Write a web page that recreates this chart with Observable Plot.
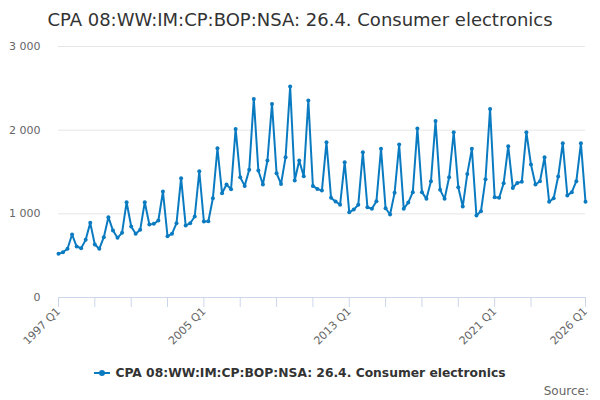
<!DOCTYPE html>
<html>
<head>
<meta charset="utf-8">
<script src="https://cdn.jsdelivr.net/npm/d3@7"></script>
<script src="https://cdn.jsdelivr.net/npm/@observablehq/plot@0.6"></script>
<style>
  body { margin: 0; width: 600px; height: 400px; background: #fff; font-family: "DejaVu Sans", sans-serif; overflow: hidden; }
  #title { height: 40px; line-height: 40px; text-align: center; font-size: 18px; color: #333; }
  #chart svg { display: block; }
  #legend { position: absolute; top: 366px; left: 0; width: 600px; text-align: center; font-size: 12.3px; font-weight: bold; color: #333; }
  #legend .sw { display: inline-block; vertical-align: middle; position: relative; width: 16px; height: 2px; background: #0b7bc1; margin-right: 5px; top: -1px; }
  #legend .sw::after { content: ""; position: absolute; left: 5px; top: -2px; width: 6px; height: 6px; border-radius: 3px; background: #0b7bc1; }
  #source { position: absolute; top: 384px; right: 11px; font-size: 12px; color: #666; }
</style>
</head>
<body>
<div id="title">CPA 08:WW:IM:CP:BOP:NSA: 26.4. Consumer electronics</div>
<div id="chart"></div>
<div id="legend"><span class="sw"></span>CPA 08:WW:IM:CP:BOP:NSA: 26.4. Consumer electronics</div>
<div id="source">Source:</div>
<script>
const seriesName = "CPA 08:WW:IM:CP:BOP:NSA: 26.4. Consumer electronics";
const startYear = 1997;
// Quarterly values, 1997 Q1 .. 2026 Q1
const values = [
  522, 541, 582, 753,      // 1997
  609, 589, 689, 892,      // 1998
  633, 582, 721, 960,      // 1999
  800, 713, 773, 1139,     // 2000
  848, 761, 809, 1139,     // 2001
  872, 880, 920, 1266,     // 2002
  733, 761, 888, 1426,     // 2003
  860, 888, 968, 1509,     // 2004
  908, 912, 1187, 1784,    // 2005
  1246, 1350, 1294, 2015,  // 2006
  1437, 1334, 1526, 2374,  // 2007
  1517, 1350, 1637, 2314,  // 2008
  1485, 1358, 1676, 2521,  // 2009
  1398, 1637, 1450, 2354,  // 2010
  1334, 1298, 1278, 1856,  // 2011
  1191, 1147, 1110, 1617,  // 2012
  1019, 1051, 1108, 1736,  // 2013
  1079, 1060, 1151, 1777,  // 2014
  1067, 992, 1251, 1828,   // 2015
  1060, 1135, 1259, 2020,  // 2016
  1259, 1179, 1390, 2110,  // 2017
  1287, 1179, 1437, 1975,  // 2018
  1318, 1087, 1477, 1777,  // 2019
  980, 1031, 1414, 2254,   // 2020
  1199, 1191, 1366, 1808,  // 2021
  1310, 1370, 1382, 1975,  // 2022
  1589, 1350, 1390, 1676,  // 2023
  1143, 1187, 1446, 1844,  // 2024
  1219, 1259, 1390, 1844,  // 2025
  1143                     // 2026 Q1
];
const yTicks = [0, 1000, 2000, 3000];
const xMinorTickYears = [1997, 1999, 2001, 2003, 2005, 2007, 2009, 2011, 2013, 2015, 2017, 2019, 2021, 2023, 2026];
const xLabelYears = [1997, 2005, 2013, 2021, 2026];

const qDate = (y, q) => new Date(Date.UTC(y, q * 3, 1));
const data = values.map((v, i) => ({
  date: qDate(startYear + Math.floor(i / 4), i % 4),
  value: v
}));
const minorTicks = xMinorTickYears.map(y => qDate(y, 0));
const labelTicks = xLabelYears.map(y => qDate(y, 0));
const fmtQ = d => `${d.getUTCFullYear()} Q${Math.floor(d.getUTCMonth() / 3) + 1}`;
const fmtY = d => d3.format(",")(d).replace(/,/g, " ");
const color = "#0b7bc1";

const chart = Plot.plot({
  width: 600,
  height: 320,
  marginTop: 6,
  marginBottom: 63,
  marginLeft: 58,
  marginRight: 15,
  style: { fontFamily: "DejaVu Sans, sans-serif", background: "transparent" },
  x: { type: "utc", domain: [qDate(1997, 0), qDate(2026, 0)] },
  y: { domain: [0, 3000] },
  marks: [
    Plot.gridY(yTicks, { stroke: "#e6e6e6", strokeOpacity: 1 }),
    Plot.axisY(yTicks, { tickSize: 0, tickPadding: 18, tickFormat: fmtY, fill: "#666", fontSize: 11, label: null }),
    Plot.ruleY([0], { stroke: "#ccd6eb" }),
    Plot.axisX(minorTicks, { tickSize: 10, stroke: "#ccd6eb", strokeOpacity: 1, tickFormat: () => "", label: null }),
    Plot.axisX(labelTicks, { tickSize: 0, tickPadding: 12, tickRotate: -45, tickFormat: fmtQ, fill: "#666", fontSize: 11, label: null }),
    Plot.line(data, { x: "date", y: "value", stroke: color, strokeWidth: 2 }),
    Plot.dot(data, { x: "date", y: "value", r: 2, fill: color })
  ]
});
document.getElementById("chart").appendChild(chart);
</script>
</body>
</html>
